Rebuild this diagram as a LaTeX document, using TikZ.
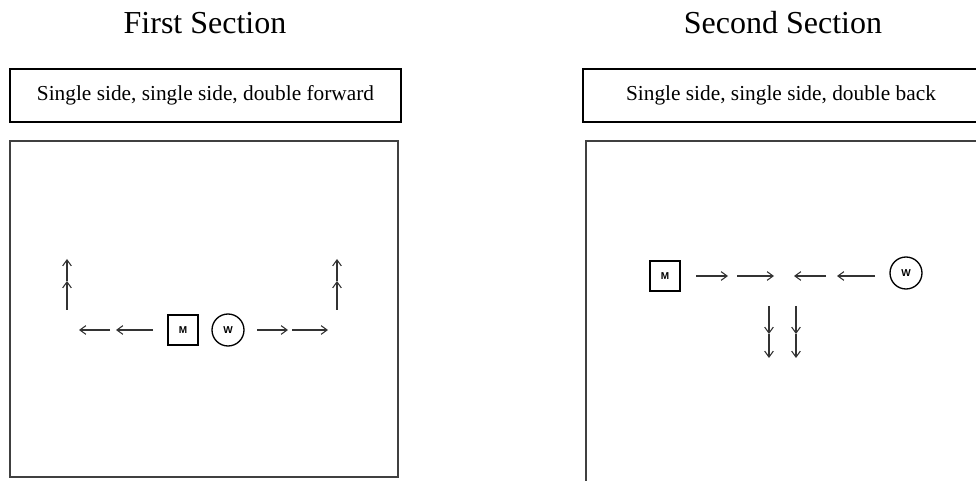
\documentclass[tikz,border=0pt]{standalone}
\usepackage{fontspec}
\setmainfont{Liberation Serif}
\newfontfamily\tagfont{Liberation Sans}
\usetikzlibrary{arrows.meta}

\begin{document}
\begin{tikzpicture}[x=0.75pt,y=-0.75pt,>={Straight Barb[length=4.5pt,width=6.5pt]},
    title/.style={font=\fontsize{24}{28}\selectfont,anchor=base},
    capbox/.style={draw,line width=1.2pt,minimum width=293pt,minimum height=39.75pt,
        inner sep=0pt,font=\fontsize{16}{19}\selectfont},
    frame/.style={draw=black!75,line width=1.3pt},
    walk/.style={->,line width=0.8pt,draw=black!80},
    dancer/.style={draw,line width=1pt,inner sep=0pt,
        font=\tagfont\bfseries\fontsize{7.5}{8}\selectfont}]
    % page size, in pixel-like units (y grows downwards)
    \useasboundingbox (0,0) rectangle (976,481);
    \clip (0,0) rectangle (976,481);

    % ---------------- first section ----------------
    \node[title] (title1) at (205,34) {First Section};
    \node[capbox] (cap1) at (205.5,95.5) {Single side, single side, double forward};
    \draw[frame] (10,141) rectangle (398,477);
    \node[dancer,minimum size=22.5pt] (M1) at (183,330) {M};
    \node[dancer,circle,minimum size=24pt] (W1) at (228,330) {W};
    % side steps out to the left and to the right
    \coordinate (a1) at (153,330);
    \coordinate (a2) at (116,330);
    \coordinate (a3) at (110,330);
    \coordinate (a4) at (79,330);
    \coordinate (b1) at (257,330);
    \coordinate (b2) at (288,330);
    \coordinate (b3) at (292,330);
    \coordinate (b4) at (328,330);
    \draw[walk] (a1) -- (a2);
    \draw[walk] (a3) -- (a4);
    \draw[walk] (b1) -- (b2);
    \draw[walk] (b3) -- (b4);
    % double step forward, one on each side
    \coordinate (c1) at (67,310);
    \coordinate (c2) at (67,281);
    \coordinate (c3) at (67,259);
    \coordinate (d1) at (337,310);
    \coordinate (d2) at (337,281);
    \coordinate (d3) at (337,259);
    \draw[walk] (c1) -- (c2);
    \draw[walk] (c2) -- (c3);
    \draw[walk] (d1) -- (d2);
    \draw[walk] (d2) -- (d3);

    % ---------------- second section ----------------
    \node[title] (title2) at (783,34) {Second Section};
    % the box is cut by the right edge of the page
    \node[capbox,minimum width=306pt] (cap2) at (787,95.5) {};
    \node[font=\fontsize{16}{19}\selectfont] (text2) at (781,95.5) {Single side, single side, double back};
    \draw[frame] (586,141) rectangle (990,495); % runs off the page on the right and below
    \node[dancer,minimum size=22.5pt] (M2) at (665,276) {M};
    \node[dancer,circle,minimum size=24pt] (W2) at (906,273) {W};
    % side steps towards the middle
    \coordinate (e1) at (696,276);
    \coordinate (e2) at (728,276);
    \coordinate (e3) at (737,276);
    \coordinate (e4) at (774,276);
    \coordinate (f1) at (875,276);
    \coordinate (f2) at (837,276);
    \coordinate (f3) at (826,276);
    \coordinate (f4) at (794,276);
    \draw[walk] (e1) -- (e2);
    \draw[walk] (e3) -- (e4);
    \draw[walk] (f1) -- (f2);
    \draw[walk] (f3) -- (f4);
    % double step back
    \coordinate (g1) at (769,306);
    \coordinate (g2) at (769,334);
    \coordinate (g3) at (769,358);
    \coordinate (h1) at (796,306);
    \coordinate (h2) at (796,334);
    \coordinate (h3) at (796,358);
    \draw[walk] (g1) -- (g2);
    \draw[walk] (g2) -- (g3);
    \draw[walk] (h1) -- (h2);
    \draw[walk] (h2) -- (h3);
\end{tikzpicture}
\end{document}
